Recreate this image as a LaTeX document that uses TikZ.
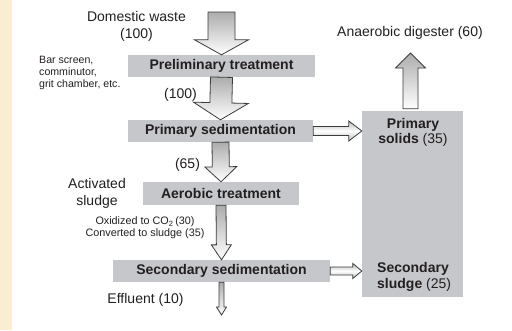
\documentclass[tikz,border=0pt]{standalone}
\usepackage{fontspec}
\setmainfont{Liberation Sans}
\usetikzlibrary{calc}
\definecolor{boxgray}{RGB}{198,199,203}
\definecolor{ink}{RGB}{35,31,32}
\definecolor{parch}{RGB}{251,237,210}
\definecolor{edge}{RGB}{60,60,60}
\tikzset{
  stage/.style={fill=boxgray, inner sep=0pt, text=ink,
    font=\fontsize{14}{16}\selectfont\bfseries},
  lbl/.style={inner sep=0pt, text=ink, align=center,
    font=\fontsize{14}{17}\selectfont},
  note/.style={inner sep=0pt, text=ink,
    font=\fontsize{10.6}{12}\selectfont},
  % block arrow: shaft half-width / head half-width / head length
  blockarrow/.style args={#1/#2/#3}{to path={
      coordinate (bab) at ($(\tikztotarget)!#3!(\tikztostart)$)
      ($(\tikztostart)!#1!-90:(\tikztotarget)$)
      -- ($(bab)!#1!-90:(\tikztotarget)$)
      -- ($(bab)!#2!-90:(\tikztotarget)$)
      -- (\tikztotarget)
      -- ($(bab)!#2!90:(\tikztotarget)$)
      -- ($(bab)!#1!90:(\tikztotarget)$)
      -- ($(\tikztostart)!#1!90:(\tikztotarget)$)
      -- cycle}},
  vshade/.style={draw=edge, line width=0.8pt, line join=miter,
    top color=gray!65, bottom color=white},
  hshade/.style={draw=edge, line width=0.8pt, line join=miter,
    top color=gray!55, bottom color=gray!55, middle color=white},
}
\begin{document}
\begin{tikzpicture}[x=1pt, y=-1pt]
  \useasboundingbox (0,0) rectangle (512,330);
  \fill[white] (0,0) rectangle (512,330);
  \fill[parch] (0,0) rectangle (12,330);

  % process stages
  \node[stage, minimum width=187pt, minimum height=22pt] (pre)  at (221.5,66)  {Preliminary treatment};
  \node[stage, minimum width=185pt, minimum height=22pt] (prim) at (220.5,131) {Primary sedimentation};
  \node[stage, minimum width=156pt, minimum height=23pt] (aer)  at (221,193.5) {Aerobic treatment};
  \node[stage, minimum width=217pt, minimum height=22pt] (sec)  at (221.5,271) {Secondary sedimentation};
  \node[fill=boxgray, minimum width=101pt, minimum height=186pt, inner sep=0pt] (big) at (412.5,204) {};

  % solids labels inside the sludge column
  \node[lbl, font=\fontsize{14}{15}\selectfont] (solids) at (413,132.5) {\textbf{Primary}\\\textbf{solids} (35)};
  \node[lbl, align=left, anchor=west, font=\fontsize{14}{16}\selectfont] (sludge) at (377,277) {\textbf{Secondary}\\\textbf{sludge} (25)};

  % side labels
  \node[lbl] (waste) at (136.5,26.5) {Domestic waste\\(100)};
  \node[note, align=left, anchor=west] (prenote) at (39,72.5) {Bar screen,\\comminutor,\\grit chamber, etc.};
  \node[lbl] (q100) at (180.5,95) {(100)};
  \node[lbl] (q65) at (187.5,165) {(65)};
  \node[lbl] (act) at (97,193.5) {Activated\\sludge};
  \node[note, align=center, font=\fontsize{10.8}{12}\selectfont] (ox) at (145,228) {Oxidized to CO\textsubscript{2}\,(30)\\Converted to sludge (35)};
  \node[lbl] (eff) at (145.5,300) {Effluent (10)};
  \node[lbl] (dig) at (410,33) {Anaerobic digester (60)};

  \coordinate (intake) at (221.5,12);
  \coordinate (outlet) at (221.5,315);
  \coordinate (digtip) at (410.5,53);

  % main flow
  \draw[vshade, blockarrow=13.5pt/27pt/15pt] (intake) to (pre.north);
  \draw[vshade, blockarrow=11pt/27.5pt/17pt] (pre.south) to (prim.north);
  \draw[vshade, blockarrow=8.5pt/16pt/15pt] (prim.south) to (aer.north);
  \draw[vshade, blockarrow=5pt/10pt/15pt] (aer.south) to (sec.north);
  \draw[vshade, blockarrow=2.5pt/5pt/8pt] (sec.south) to (outlet);

  % solids streams
  \draw[hshade, blockarrow=4.5pt/10pt/13pt] (prim.east) to (prim.east -| big.west);
  \draw[hshade, blockarrow=4pt/7.5pt/9pt] (sec.east) to (sec.east -| big.west);
  \draw[vshade, blockarrow=7.5pt/15pt/15pt] ($(digtip |- big.north)+(0,-2)$) to (digtip);
\end{tikzpicture}
\end{document}
